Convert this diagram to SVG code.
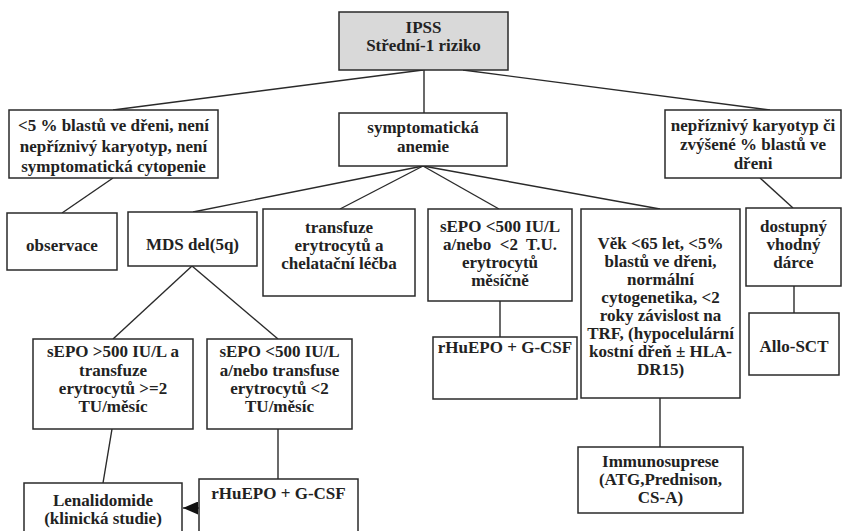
<svg xmlns="http://www.w3.org/2000/svg" width="847" height="531" viewBox="0 0 847 531">
  <style>
    .box { fill: #ffffff; stroke: #2a2a2a; stroke-width: 1.5; }
    .root { fill: #d9d9d9; }
    .t { font-family: "Liberation Serif", "Times New Roman", serif; font-weight: bold; font-size: 17px; fill: #222222; text-anchor: middle; }
    .edge { fill: none; stroke: #2a2a2a; stroke-width: 1.4; }
  </style>
  <defs>
    <marker id="arrow" viewBox="0 0 10 10" refX="10" refY="5" markerWidth="15" markerHeight="13" markerUnits="userSpaceOnUse" orient="auto" preserveAspectRatio="none">
      <path d="M0,0 L10,5 L0,10 Z" fill="#111111"/>
    </marker>
  </defs>
  <rect width="847" height="531" fill="#ffffff"/>

  <g id="connectors">
    <line class="edge" x1="423" y1="70" x2="113" y2="110"/>
    <line class="edge" x1="424" y1="70" x2="424" y2="113"/>
    <line class="edge" x1="463" y1="70" x2="770" y2="110"/>
    <line class="edge" x1="113" y1="178" x2="62" y2="213"/>
    <line class="edge" x1="423" y1="166" x2="193" y2="212"/>
    <line class="edge" x1="423" y1="166" x2="340" y2="209"/>
    <line class="edge" x1="423" y1="166" x2="499" y2="209"/>
    <line class="edge" x1="423" y1="166" x2="660" y2="209"/>
    <line class="edge" x1="760" y1="178" x2="793" y2="208"/>
    <line class="edge" x1="794" y1="286" x2="794" y2="313"/>
    <line class="edge" x1="192" y1="266" x2="113" y2="339"/>
    <line class="edge" x1="192" y1="266" x2="278" y2="339"/>
    <line class="edge" x1="500" y1="301" x2="500" y2="337"/>
    <line class="edge" x1="660" y1="398" x2="660" y2="447"/>
    <line class="edge" x1="112" y1="429" x2="103" y2="483"/>
    <line class="edge" x1="278" y1="429" x2="278" y2="479"/>
    <line class="edge" x1="199" y1="508" x2="183" y2="508" marker-end="url(#arrow)"/>
  </g>

  <g id="ipss">
    <rect class="box root" x="339" y="12" width="169" height="58"/>
    <text class="t" x="423.5" y="33">IPSS</text>
    <text class="t" x="423.5" y="51">Střední-1 riziko</text>
  </g>

  <g id="low-risk">
    <rect class="box" x="9" y="110" width="209" height="68"/>
    <text class="t" x="113.5" y="131">&lt;5 % blastů ve dřeni, není</text>
    <text class="t" x="113.5" y="151.5">nepříznivý karyotyp, není</text>
    <text class="t" x="113.5" y="172">symptomatická cytopenie</text>
  </g>

  <g id="anemia">
    <rect class="box" x="339" y="113" width="168" height="53"/>
    <text class="t" x="423" y="133">symptomatická</text>
    <text class="t" x="423" y="152">anemie</text>
  </g>

  <g id="high-risk">
    <rect class="box" x="665" y="110" width="176" height="68"/>
    <text class="t" x="753" y="131">nepříznivý karyotyp či</text>
    <text class="t" x="753" y="150">zvýšené % blastů ve</text>
    <text class="t" x="753" y="169">dřeni</text>
  </g>

  <g id="observation">
    <rect class="box" x="7" y="213" width="110" height="57"/>
    <text class="t" x="62" y="251">observace</text>
  </g>

  <g id="del5q">
    <rect class="box" x="128" y="212" width="129" height="54"/>
    <text class="t" x="192.5" y="250">MDS del(5q)</text>
  </g>

  <g id="transfusion">
    <rect class="box" x="263" y="209" width="152" height="87"/>
    <text class="t" x="339" y="233">transfuze</text>
    <text class="t" x="339" y="251">erytrocytů a</text>
    <text class="t" x="339" y="269">chelatační léčba</text>
  </g>

  <g id="sepo-low">
    <rect class="box" x="428" y="209" width="144" height="92"/>
    <text class="t" x="500" y="232">sEPO &lt;500 IU/L</text>
    <text class="t" x="500" y="250" xml:space="preserve">a/nebo  &lt;2  T.U.</text>
    <text class="t" x="500" y="268">erytrocytů</text>
    <text class="t" x="500" y="286">měsíčně</text>
  </g>

  <g id="age-criteria">
    <rect class="box" x="581" y="209" width="159" height="189"/>
    <text class="t" x="660.5" y="249">Věk &lt;65 let, &lt;5%</text>
    <text class="t" x="660.5" y="267">blastů ve dřeni,</text>
    <text class="t" x="660.5" y="285">normální</text>
    <text class="t" x="660.5" y="303">cytogenetika, &lt;2</text>
    <text class="t" x="660.5" y="321">roky závislost na</text>
    <text class="t" x="660.5" y="339">TRF, (hypocelulární</text>
    <text class="t" x="660.5" y="357">kostní dřeň ± HLA-</text>
    <text class="t" x="660.5" y="375">DR15)</text>
  </g>

  <g id="donor">
    <rect class="box" x="746" y="208" width="95" height="78"/>
    <text class="t" x="793.5" y="232">dostupný</text>
    <text class="t" x="793.5" y="250">vhodný</text>
    <text class="t" x="793.5" y="268">dárce</text>
  </g>

  <g id="allo-sct">
    <rect class="box" x="749" y="313" width="90" height="62"/>
    <text class="t" x="794" y="352">Allo-SCT</text>
  </g>

  <g id="rhuepo-mid">
    <rect class="box" x="433" y="337" width="144" height="62"/>
    <text class="t" x="505" y="353">rHuEPO + G-CSF</text>
  </g>

  <g id="immunosuppression">
    <rect class="box" x="578" y="447" width="165" height="66"/>
    <text class="t" x="660.5" y="467">Immunosuprese</text>
    <text class="t" x="660.5" y="485">(ATG,Prednison,</text>
    <text class="t" x="660.5" y="503">CS-A)</text>
  </g>

  <g id="sepo-high-5q">
    <rect class="box" x="33" y="339" width="160" height="90"/>
    <text class="t" x="113" y="357">sEPO &gt;500 IU/L a</text>
    <text class="t" x="113" y="376">transfuze</text>
    <text class="t" x="113" y="394">erytrocytů &gt;=2</text>
    <text class="t" x="113" y="412">TU/měsíc</text>
  </g>

  <g id="sepo-low-5q">
    <rect class="box" x="207" y="339" width="145" height="90"/>
    <text class="t" x="279.5" y="357">sEPO &lt;500 IU/L</text>
    <text class="t" x="279.5" y="376">a/nebo transfuse</text>
    <text class="t" x="279.5" y="394">erytrocytů &lt;2</text>
    <text class="t" x="279.5" y="412">TU/měsíc</text>
  </g>

  <g id="lenalidomide">
    <rect class="box" x="24" y="483" width="158" height="60"/>
    <text class="t" x="103" y="506">Lenalidomide</text>
    <text class="t" x="103" y="524">(klinická studie)</text>
  </g>

  <g id="rhuepo-5q">
    <rect class="box" x="199" y="479" width="159" height="64"/>
    <text class="t" x="278.5" y="499">rHuEPO + G-CSF</text>
  </g>
</svg>
